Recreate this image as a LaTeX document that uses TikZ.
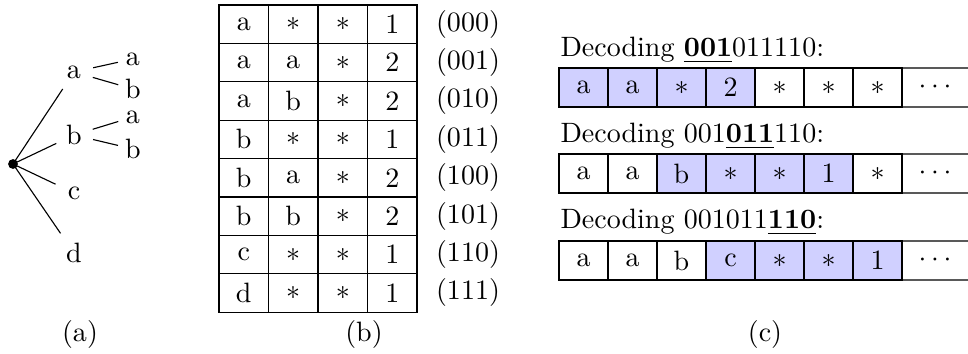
\documentclass[tikz,border=0pt]{standalone}
\definecolor{hlc}{RGB}{208,208,255}
\newcommand{\sta}{$*$}
\begin{document}
\begin{tikzpicture}[x=0.357pt,y=-0.357pt,
  lbl/.style={inner sep=0pt},
  dotn/.style={circle,fill=black,inner sep=0pt,minimum size=3.5pt},
  tline/.style={line width=0.4pt},
  tcell/.style={draw,line width=0.4pt,inner sep=0pt,outer sep=0pt,minimum width=17.67pt,minimum height=13.71pt},
  ccell/.style={draw,line width=0.4pt,inner sep=0pt,outer sep=0pt,minimum width=17.49pt,minimum height=13.92pt},
  hl/.style={fill=hlc},
  nohl/.style={}]
\useasboundingbox (0,0) rectangle (968,354);
% (a) tree
\node[dotn] (root) at (13,164) {};
\node[lbl] (ta) at (74,72) {a};
\node[lbl] (tb) at (74,135) {b};
\node[lbl] (tc) at (74,193) {c};
\node[lbl] (td) at (74,253) {d};
\node[lbl] (taa) at (133,59) {a};
\node[lbl] (tab) at (133,89) {b};
\node[lbl] (tba) at (133,117) {a};
\node[lbl] (tbb) at (133,149) {b};
\draw[tline,shorten >=7.3pt] (root.center) -- (ta.center);
\draw[tline,shorten >=7pt] (root.center) -- (tb.center);
\draw[tline,shorten >=7.3pt] (root.center) -- (tc.center);
\draw[tline,shorten >=8.5pt] (root.center) -- (td.center);
\draw[tline,shorten <=7pt,shorten >=5.5pt] (ta.center) -- (taa.center);
\draw[tline,shorten <=7pt,shorten >=5.5pt] (ta.center) -- (tab.center);
\draw[tline,shorten <=7pt,shorten >=5.5pt] (tb.center) -- (tba.center);
\draw[tline,shorten <=7pt,shorten >=5.5pt] (tb.center) -- (tbb.center);
\node[lbl] (capa) at (80,335) {(a)};
% (b) table
\foreach \A/\B/\C/\D/\L [count=\i from 0] in {a/\sta/\sta/1/000, a/a/\sta/2/001, a/b/\sta/2/010, b/\sta/\sta/1/011, b/a/\sta/2/100, b/b/\sta/2/101, c/\sta/\sta/1/110, d/\sta/\sta/1/111} {
  \node[tcell] (b\i-1) at (243.75,{24.2+38.4*\i}) {\A};
  \node[tcell] (b\i-2) at (293.25,{24.2+38.4*\i}) {\B};
  \node[tcell] (b\i-3) at (342.75,{24.2+38.4*\i}) {\C};
  \node[tcell] (b\i-4) at (392.25,{24.2+38.4*\i}) {\D};
  \node[lbl] (bl\i) at (468,{24.2+38.4*\i}) {(\L)};
}
\node[lbl] (capb) at (364,335) {(b)};
% (c)
\node[lbl,anchor=base west] (dec1) at (560,57) {Decoding \underline{\textbf{001}}011110:};
\node[lbl,anchor=base west] (dec2) at (560,143) {Decoding 001\underline{\textbf{011}}110:};
\node[lbl,anchor=base west] (dec3) at (560,229) {Decoding 001011\underline{\textbf{110}}:};
\foreach \r/\yy in {1/87.5,2/173.5,3/260.5} {
  \coordinate (e\r n) at (968,{\yy-19.5});
  \coordinate (e\r s) at (968,{\yy+19.5});
}
\foreach \t/\f [count=\j] in {a/hl,a/hl,\sta/hl,2/hl,\sta/nohl,\sta/nohl,\sta/nohl} {
  \node[ccell,\f] (c1-\j) at ({534.5+49*\j},87.5) {\t};
}
\foreach \t/\f [count=\j] in {a/nohl,a/nohl,b/hl,\sta/hl,\sta/hl,1/hl,\sta/nohl} {
  \node[ccell,\f] (c2-\j) at ({534.5+49*\j},173.5) {\t};
}
\foreach \t/\f [count=\j] in {a/nohl,a/nohl,b/nohl,c/hl,\sta/hl,\sta/hl,1/hl} {
  \node[ccell,\f] (c3-\j) at ({534.5+49*\j},260.5) {\t};
}
\foreach \r in {1,2,3} {
  \draw[tline] (c\r-7.north east) -- (e\r n);
  \draw[tline] (c\r-7.south east) -- (e\r s);
}
\node[lbl] (dots1) at (935,87.5) {$\cdots$};
\node[lbl] (dots2) at (935,173.5) {$\cdots$};
\node[lbl] (dots3) at (935,260.5) {$\cdots$};
\node[lbl] (capc) at (765,335) {(c)};
\end{tikzpicture}
\end{document}
